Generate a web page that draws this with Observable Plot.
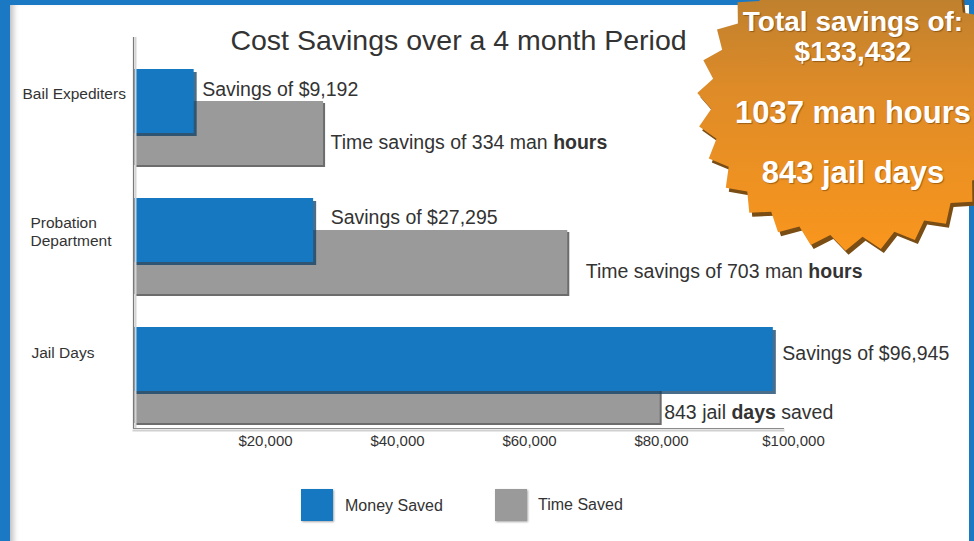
<!DOCTYPE html>
<html><head><meta charset="utf-8">
<script src="https://cdn.jsdelivr.net/npm/d3@7"></script>
<script src="https://cdn.jsdelivr.net/npm/@observablehq/plot@0.6"></script>
<style>
html,body{margin:0;padding:0;background:#1b79c3;width:974px;height:541px;overflow:hidden;font-family:"Liberation Sans",Arial,sans-serif;}
#panel{position:absolute;left:10px;top:5px;width:959px;height:545px;background:#fff;box-shadow:inset 7px 0 6px -4px rgba(0,0,0,0.28);}
#chart{position:absolute;left:0;top:0;}
.sw{position:absolute;width:32px;height:32px;box-shadow:1px 1px 2px rgba(0,0,0,0.35);}
.lt{position:absolute;font-size:16px;color:#333;line-height:18px;}
</style></head>
<body>
<div id="panel"></div>
<div id="chart"></div>
<div id="legend"></div>
<script>
// ---- data ----
const categories = ["Bail Expediters", "Probation Department", "Jail Days"];
const categoryLabels = ["Bail Expediters", "Probation\nDepartment", "Jail Days"];
const moneySaved = [9192, 27295, 96945];
const timeBarLength = [28800, 65800, 79800]; // gray bar lengths as drawn on the $ axis
const moneyLabels = ["Savings of $9,192", "Savings of $27,295", "Savings of $96,945"];
const timeLabels = ["Time savings of 334 man *hours*", "Time savings of 703 man *hours*", "843 jail *days* saved"];
const xTicks = [20000, 40000, 60000, 80000, 100000];
const title = "Cost Savings over a 4 month Period";
const totals = ["Total savings of:", "$133,432", "1037 man hours", "843 jail days"];
const legendItems = ["Money Saved", "Time Saved"];

// ---- layout (not data) ----
const BLUE = "#1778c2", GRAY = "#9a9a9a", INK = "#333";
const moneyDx = [8, 17, 9], moneyDy = [-12, -13, -6];
const timeDx = [7, 18, 4], timeDy = [41, 41, 53];
const catX = [22, 30, 31], catDy = [-8, 1, -7];

const rows = categories.map((c, i) => ({cat: c, money: moneySaved[i], time: timeBarLength[i]}));

const marks = [
  Plot.barX(rows, {y: "cat", x: "time", fill: "#6c6c6c", dx: 2, dy: 34}),
  Plot.barX(rows, {y: "cat", x: "time", fill: GRAY, dy: 32}),
  Plot.barX(rows, {y: "cat", x: "money", fill: "#0b3d66", fillOpacity: 0.75, dx: 3, dy: 3}),
  Plot.barX(rows, {y: "cat", x: "money", fill: BLUE}),
  Plot.ruleX([0], {stroke: "#d4d4d4", strokeWidth: 2, dx: 2}),
  Plot.ruleX([0], {stroke: "#7a7a7a", strokeWidth: 1.2}),
  Plot.frame({anchor: "bottom", stroke: "#d0d0d0", strokeWidth: 2, dy: 2}),
  Plot.frame({anchor: "bottom", stroke: "#8a8a8a", strokeWidth: 1.2}),
  Plot.axisX(xTicks, {tickSize: 0, tickPadding: 7, tickFormat: d => "$" + d3.format(",")(d), fontSize: 15, fill: INK}),
  Plot.text([title], {frameAnchor: "top", dy: 3, lineAnchor: "middle", fontSize: 28.5, fill: INK})
];
rows.forEach((r, i) => {
  marks.push(Plot.text([r], {x: "money", y: "cat", text: () => moneyLabels[i], textAnchor: "start", dx: moneyDx[i], dy: moneyDy[i], fontSize: 19.5, fill: INK}));
  marks.push(Plot.text([r], {x: "time", y: "cat", text: () => timeLabels[i], textAnchor: "start", dx: timeDx[i], dy: timeDy[i], fontSize: 19.5, fill: INK}));
  marks.push(Plot.text([r], {y: "cat", frameAnchor: "left", text: () => categoryLabels[i], textAnchor: "start", dx: catX[i] - 133, dy: catDy[i], fontSize: 15.5, lineHeight: 1.15, fill: INK}));
});

const plot = Plot.plot({
  width: 974, height: 541,
  marginLeft: 133, marginRight: 191, marginTop: 37, marginBottom: 113,
  style: {background: "transparent", fontFamily: "'Liberation Sans', Arial, sans-serif"},
  x: {domain: [0, 100000], range: [133, 793], axis: null},
  y: {type: "band", domain: categories, range: [69, 391], paddingInner: 0.504, paddingOuter: 0, axis: null},
  marks
});
document.getElementById("chart").appendChild(plot);

// bold words marked with *...*
d3.select(plot).selectAll("text").each(function() {
  const t = this.textContent;
  if (!t.includes("*") || this.querySelector("tspan")) return;
  const parts = t.split("*");
  this.textContent = "";
  parts.forEach((p, k) => {
    if (!p) return;
    const ts = document.createElementNS("http://www.w3.org/2000/svg", "tspan");
    ts.textContent = p;
    if (k % 2 === 1) ts.setAttribute("font-weight", "bold");
    this.appendChild(ts);
  });
});

// starburst badge
const svg = d3.select(plot);
const defs = svg.append("defs");
const grad = defs.append("linearGradient").attr("id", "starGrad").attr("gradientUnits", "userSpaceOnUse")
  .attr("x1", 0).attr("y1", -45).attr("x2", 0).attr("y2", 250);
grad.append("stop").attr("offset", 0).attr("stop-color", "#b07b30");
grad.append("stop").attr("offset", 0.45).attr("stop-color", "#de8b28");
grad.append("stop").attr("offset", 1).attr("stop-color", "#f9961d");
const N = 28, cx = 855, cy = 102, Rx = 158, Ry = 149, depth = 14;
const pts = d3.range(2 * N).map(k => {
  const a = k * Math.PI / N - Math.PI / 2 + 0.06;
  const o = k % 2 === 0 ? 0 : depth;
  return [cx + (Rx - o) * Math.cos(a), cy + (Ry - o) * Math.sin(a)];
});
const star = svg.append("g");
star.append("polygon").attr("points", pts.map(p => [p[0] + 3, p[1] + 4].join(",")).join(" ")).attr("fill", "#7a4d15");
star.append("polygon").attr("points", pts.map(p => p.join(",")).join(" ")).attr("fill", "url(#starGrad)");
const ty = [21, 51, 112, 172], tfs = [28, 28, 31, 31];
totals.forEach((t, i) => {
  star.append("text").attr("x", 853).attr("y", ty[i]).attr("dy", "0.36em")
    .attr("text-anchor", "middle").attr("fill", "#fff").attr("font-weight", "bold")
    .attr("font-size", tfs[i]).attr("font-family", "'Liberation Sans', Arial, sans-serif")
    .style("text-shadow", "1px 1px 1px rgba(90,50,0,0.5)").text(t);
});

// legend
const lg = document.getElementById("legend");
const swX = [301, 495], txX = [345, 538], cols = [BLUE, GRAY];
legendItems.forEach((name, i) => {
  const s = document.createElement("div"); s.className = "sw";
  s.style.left = swX[i] + "px"; s.style.top = "489px"; s.style.background = cols[i];
  lg.appendChild(s);
  const t = document.createElement("div"); t.className = "lt";
  t.style.left = txX[i] + "px"; t.style.top = (497 - (i ? 1 : 0)) + "px"; t.textContent = name;
  lg.appendChild(t);
});
</script>
</body></html>
